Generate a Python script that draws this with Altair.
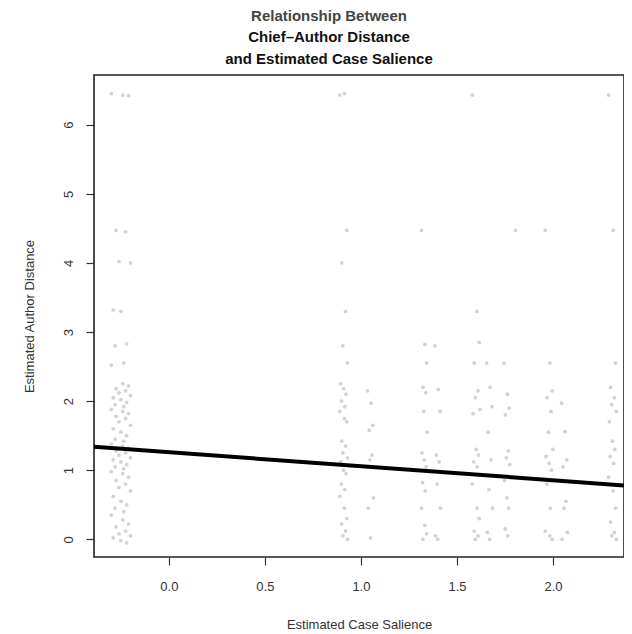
import altair as alt
import pandas as pd

# Column centres of estimated case salience and the jittered author distances in each
col_centres = [-0.25, 0.91, 1.05, 1.33, 1.40, 1.60, 1.67, 1.76, 1.82, 1.98, 2.06, 2.31]
col_y = [
    [6.45, 6.43, 6.42, 4.47, 4.45, 4.02, 4.0, 3.32, 3.3, 2.83, 2.8, 2.55, 2.52, 2.25, 2.22,
     2.18, 2.15, 2.12, 2.08, 2.05, 2.02, 1.98, 1.95, 1.92, 1.88, 1.85, 1.82, 1.78, 1.75, 1.7,
     1.65, 1.6, 1.55, 1.5, 1.45, 1.42, 1.38, 1.35, 1.32, 1.28, 1.25, 1.22, 1.18, 1.15, 1.12,
     1.08, 1.05, 1.02, 0.98, 0.95, 0.9, 0.85, 0.8, 0.75, 0.7, 0.62, 0.55, 0.5, 0.45, 0.4,
     0.35, 0.28, 0.22, 0.18, 0.12, 0.08, 0.05, 0.02, -0.02, -0.05],
    [6.43, 6.45, 4.47, 4.0, 3.3, 2.8, 2.55, 2.25, 2.18, 2.1, 2.0, 1.92, 1.85, 1.75, 1.7,
     1.42, 1.35, 1.25, 1.18, 1.12, 1.0, 0.95, 0.8, 0.72, 0.62, 0.45, 0.3, 0.22, 0.12, 0.05, 0.0],
    [2.15, 1.97, 1.65, 1.58, 1.22, 1.15, 0.6, 0.45, 0.02],
    [4.47, 2.82, 2.55, 2.2, 2.12, 1.85, 1.55, 1.25, 1.15, 1.05, 0.82, 0.7, 0.45, 0.2, 0.08, 0.0],
    [2.8, 2.17, 1.85, 1.22, 1.12, 0.8, 0.45, 0.05, 0.0],
    [6.43, 3.3, 2.85, 2.55, 2.15, 2.05, 1.88, 1.82, 1.3, 1.22, 1.12, 1.05, 0.8, 0.45, 0.3,
     0.12, 0.05, 0.0],
    [2.55, 2.2, 1.92, 1.55, 1.15, 0.72, 0.45, 0.1, 0.0],
    [2.55, 2.1, 1.9, 1.8, 1.28, 1.18, 1.08, 0.85, 0.6, 0.45, 0.15, 0.05],
    [4.47],
    [4.47, 2.55, 2.15, 2.05, 1.85, 1.55, 1.3, 1.2, 1.1, 1.0, 0.8, 0.45, 0.12, 0.05, 0.0],
    [1.97, 1.56, 1.15, 1.05, 0.55, 0.45, 0.1, 0.0],
    [6.43, 4.47, 2.55, 2.2, 2.05, 1.95, 1.85, 1.7, 1.42, 1.3, 1.2, 1.1, 0.9, 0.7, 0.45,
     0.25, 0.1, 0.05, 0.0],
]
col_jitter = [0.05, 0.02, 0.015, 0.015, 0.015, 0.02, 0.015, 0.015, 0.015, 0.02, 0.015, 0.02]
jitter_steps = [-1.0, 0.2, 0.8, -0.5, 0.5, -0.2, 1.0, -0.8, 0.0, 0.6, -0.6, 0.3]

# Fitted regression line end points
line_x = [-0.39, 2.37]
line_y = [1.34, 0.78]

x_ticks = [0.0, 0.5, 1.0, 1.5, 2.0]
y_ticks = [0, 1, 2, 3, 4, 5, 6]

rows = []
for c, ys, j in zip(col_centres, col_y, col_jitter):
    for i, v in enumerate(ys):
        rows.append({"x": c + j * jitter_steps[i % len(jitter_steps)], "y": v})
pts = pd.DataFrame(rows)
ln = pd.DataFrame({"x": line_x, "y": line_y})

xs = alt.Scale(domain=[-0.39, 2.37], nice=False, zero=False)
ys_ = alt.Scale(domain=[-0.256, 6.72], nice=False, zero=False)

FONT = "Liberation Sans"

xaxis = alt.Axis(values=x_ticks, format=".1f", grid=False, domain=False,
                 tickSize=8, tickColor="#333", tickWidth=1.2,
                 labelFont=FONT, labelFontSize=13, labelColor="#333", labelPadding=15,
                 title="Estimated Case Salience", titleFont=FONT, titleFontSize=13,
                 titleFontWeight="normal", titleColor="#333", titlePadding=25)
yaxis = alt.Axis(values=y_ticks, format="d", grid=False, domain=False,
                 tickSize=8, tickColor="#333", tickWidth=1.2,
                 labelFont=FONT, labelFontSize=13, labelColor="#333", labelPadding=11,
                 labelAngle=270, labelAlign="center", labelBaseline="bottom",
                 title="Estimated Author Distance", titleFont=FONT, titleFontSize=13,
                 titleFontWeight="normal", titleColor="#333", titlePadding=26)

points = alt.Chart(pts).mark_circle(size=14, color="#a5a5a5", opacity=0.5).encode(
    x=alt.X("x:Q", scale=xs, axis=xaxis),
    y=alt.Y("y:Q", scale=ys_, axis=yaxis),
)
line = alt.Chart(ln).mark_line(color="black", strokeWidth=4, clip=True).encode(
    x=alt.X("x:Q", scale=xs),
    y=alt.Y("y:Q", scale=ys_),
)

chart = (points + line).properties(
    width=530, height=482,
    autosize=alt.AutoSizeParams(type="none"),
    padding={"left": 86, "top": 67, "right": 0, "bottom": 76},
    title=alt.TitleParams(
        text="Relationship Between",
        subtitle=["Chief\u2013Author Distance", "and Estimated Case Salience"],
        font=FONT, fontSize=15, fontWeight="bold", color="#444",
        subtitleFont=FONT, subtitleFontSize=15, subtitleFontWeight="bold",
        subtitleColor="#111", subtitleLineHeight=22, subtitlePadding=6,
        anchor="middle", dx=-30, offset=8,
    ),
).configure_view(stroke="#222", strokeWidth=1.6)

chart.save("out.html", embed_options={"renderer": "svg", "actions": False})
